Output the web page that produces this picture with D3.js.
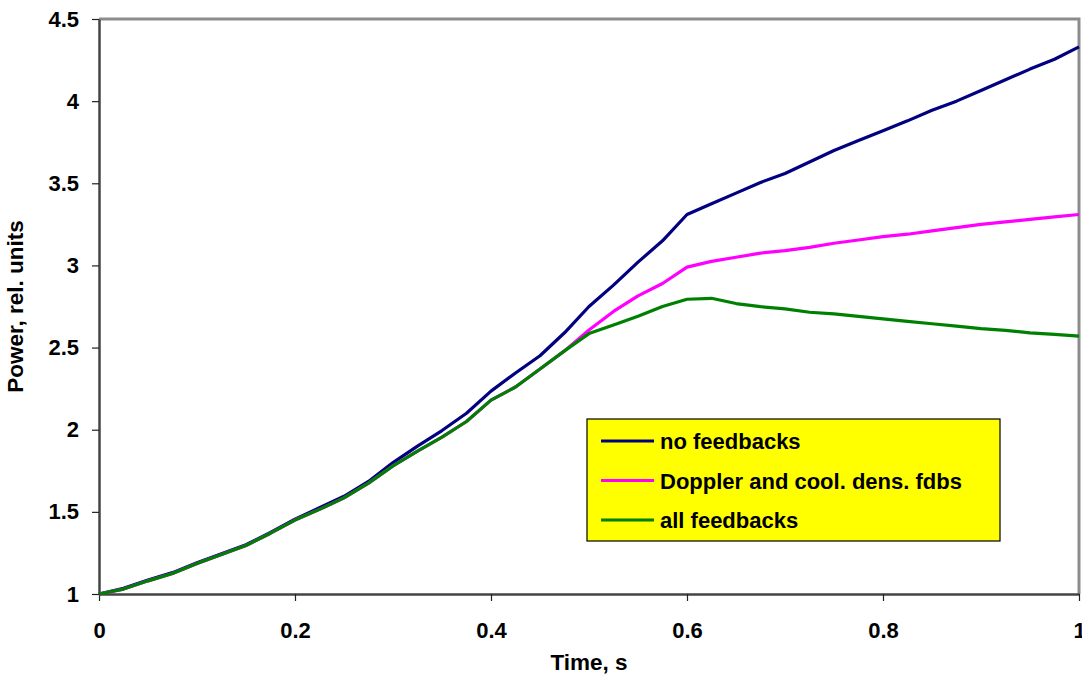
<!DOCTYPE html>
<html>
<head>
<meta charset="utf-8">
<script src="https://cdn.jsdelivr.net/npm/d3@7"></script>
<style>
  body { margin: 0; background: #fff; }
  svg { font-family: "Liberation Sans", Arial, sans-serif; font-weight: bold; }
</style>
</head>
<body>
<div id="root"></div>
<script>
const timeS = [0, 0.025, 0.05, 0.075, 0.1, 0.125, 0.15, 0.175, 0.2, 0.225, 0.25, 0.275, 0.3, 0.325, 0.35, 0.375, 0.4, 0.425, 0.45, 0.475, 0.5,
  0.525, 0.55, 0.575, 0.6, 0.625, 0.65, 0.675, 0.7, 0.725, 0.75, 0.775, 0.8, 0.825, 0.85, 0.875, 0.9, 0.925, 0.95, 0.975, 1.0];

const noFeedbacks = [1.00, 1.035, 1.085, 1.13, 1.19, 1.245, 1.30, 1.375, 1.455, 1.525, 1.595, 1.685, 1.80, 1.90, 1.995, 2.10, 2.235, 2.345, 2.45, 2.59, 2.75,
  2.88, 3.02, 3.15, 3.31, 3.375, 3.44, 3.505, 3.56, 3.63, 3.70, 3.76, 3.82, 3.88, 3.945, 4.00, 4.065, 4.13, 4.195, 4.255, 4.33];

const dopplerCool = [1.00, 1.03, 1.08, 1.125, 1.185, 1.24, 1.295, 1.37, 1.45, 1.515, 1.585, 1.675, 1.78, 1.87, 1.955, 2.05, 2.18, 2.26, 2.37, 2.48, 2.607,
  2.72, 2.815, 2.89, 2.99, 3.025, 3.05, 3.075, 3.09, 3.11, 3.135, 3.155, 3.175, 3.19, 3.21, 3.23, 3.25, 3.265, 3.28, 3.295, 3.31];

const allFeedbacks = [1.00, 1.03, 1.08, 1.125, 1.185, 1.24, 1.295, 1.37, 1.45, 1.515, 1.585, 1.675, 1.78, 1.87, 1.955, 2.05, 2.18, 2.26, 2.37, 2.48, 2.585,
  2.637, 2.69, 2.75, 2.794, 2.80, 2.768, 2.749, 2.736, 2.715, 2.705, 2.69, 2.675, 2.66, 2.645, 2.63, 2.615, 2.605, 2.59, 2.58, 2.57];

const xTicks = [0, 0.2, 0.4, 0.6, 0.8, 1];
const yTicks = [1, 1.5, 2, 2.5, 3, 3.5, 4, 4.5];

const seriesNames = ['no feedbacks', 'Doppler and cool. dens. fdbs', 'all feedbacks'];
const seriesColors = ['#000080', '#ff00ff', '#008000'];

const margin = { top: 19, right: 2, bottom: 92, left: 99 };

const svg = d3.select('#root')
  .append('svg')
    .attr('width', 1082)
    .attr('height', 686)
  .append('g')
    .attr('transform', `translate(${margin.left}, ${margin.top})`);

const xScale = d3.scaleLinear().domain([0, 1]).range([0, 980]);
const yScale = d3.scaleLinear().domain([1, 4.5]).range([575, 0]);

// plot border (top and right in gray)
svg.append('path')
  .attr('d', `M0,0H${xScale(1)}V${yScale(1)}`)
  .attr('fill', 'none')
  .attr('stroke', '#8c8c8c')
  .attr('stroke-width', 3);

const xAxis = d3.axisBottom(xScale)
  .tickValues(xTicks)
  .tickFormat(d3.format('~g'))
  .tickSizeInner(7)
  .tickSizeOuter(0)
  .tickPadding(21);

const yAxis = d3.axisLeft(yScale)
  .tickValues(yTicks)
  .tickFormat(d3.format('~g'))
  .tickSizeInner(7)
  .tickSizeOuter(0)
  .tickPadding(13);

const gx = svg.append('g')
  .attr('transform', `translate(0, ${yScale(1)})`)
  .call(xAxis);

const gy = svg.append('g')
  .call(yAxis);

[gx, gy].forEach(g => {
  g.select('.domain').attr('stroke', '#444').attr('stroke-width', 2.5);
  g.selectAll('.tick line').attr('stroke', '#222').attr('stroke-width', 1.2);
  g.selectAll('.tick text')
    .attr('fill', '#000')
    .style('font-size', '22px')
    .style('font-weight', 'bold')
    .style('font-family', '"Liberation Sans", Arial, sans-serif');
});

// lines
const allSeries = [noFeedbacks, dopplerCool, allFeedbacks];
const line = d3.line()
  .x((d, i) => xScale(timeS[i]))
  .y(d => yScale(d));

[0, 1, 2].forEach(k => {
  svg.append('path')
    .datum(allSeries[k])
    .attr('fill', 'none')
    .attr('stroke', seriesColors[k])
    .attr('stroke-width', 3.2)
    .attr('stroke-linejoin', 'round')
    .attr('d', line);
});

// axis titles
svg.append('text')
  .attr('x', xScale(0.5))
  .attr('y', 651)
  .attr('text-anchor', 'middle')
  .style('font-size', '22.5px')
  .text('Time, s');

svg.append('text')
  .attr('transform', `translate(-76, ${yScale(2.75)}) rotate(-90)`)
  .attr('text-anchor', 'middle')
  .style('font-size', '22.5px')
  .text('Power, rel. units');

// legend
const legend = svg.append('g')
  .attr('transform', `translate(${587 - margin.left}, ${419 - margin.top})`);

legend.append('rect')
  .attr('width', 413)
  .attr('height', 122)
  .attr('fill', '#ffff00')
  .attr('stroke', '#000')
  .attr('stroke-width', 1.2);

seriesNames.forEach((name, i) => {
  const y = 22 + i * 39.5;
  legend.append('line')
    .attr('x1', 14).attr('x2', 67)
    .attr('y1', y).attr('y2', y)
    .attr('stroke', seriesColors[i])
    .attr('stroke-width', 3.2);
  legend.append('text')
    .attr('x', 73)
    .attr('y', y + 8)
    .style('font-size', '22px')
    .text(name);
});
</script>
</body>
</html>
